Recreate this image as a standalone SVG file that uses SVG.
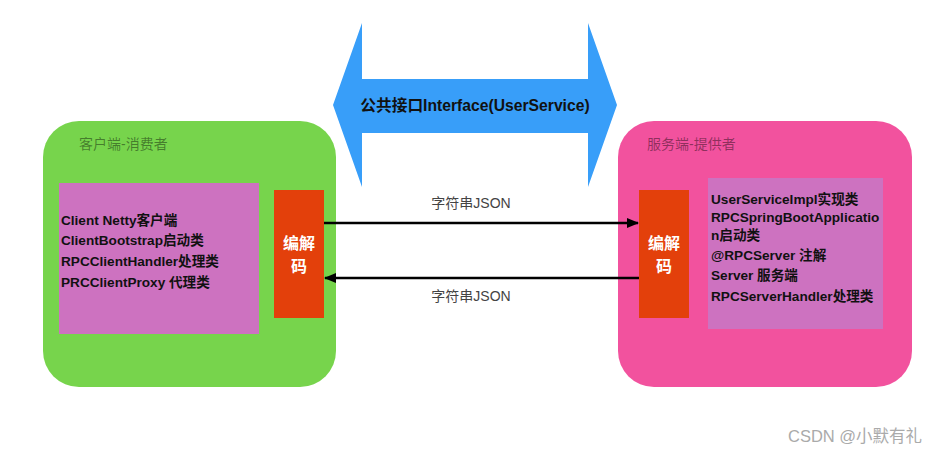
<svg xmlns="http://www.w3.org/2000/svg" width="940" height="455" viewBox="0 0 940 455">
<style>
text{font-family:"Liberation Sans","Noto Sans CJK SC",sans-serif}
.title{font-size:14px;fill:#000;fill-opacity:0.42}
.body{font-size:13.6px;font-weight:bold;fill:#111}
.codec{font-size:16px;font-weight:bold;fill:#fff;text-anchor:middle}
.lbl{font-size:14px;fill:#444;text-anchor:middle}
.conn{stroke:#000;stroke-width:2.5;fill:none}
.purple{fill:#cd72c0}
.red{fill:#e3400b}
</style>
<defs>
<marker id="ah" markerWidth="12" markerHeight="10" refX="11" refY="5" orient="auto" markerUnits="userSpaceOnUse">
<path d="M0,0 L12,5 L0,10 Z" fill="#000"/>
</marker>
</defs>
<rect width="940" height="455" fill="#fff"/>
<g id="interface">
<path d="M333,105 L362,23 L362,79 L588,79 L588,23 L617,105 L588,187 L588,133 L362,133 L362,187 Z" fill="#389ef9"/>
<text x="475" y="111" font-size="15.7" font-weight="bold" fill="#111" text-anchor="middle">公共接口Interface(UserService)</text>
</g>
<g id="client">
<rect x="43" y="121" width="293" height="266" rx="36" fill="#77d44c"/>
<text class="title" x="79" y="149">客户端-消费者</text>
<rect class="purple" x="59" y="183" width="200" height="151"/>
<text class="body" x="61" y="225">Client Netty客户端</text>
<text class="body" x="61" y="245">ClientBootstrap启动类</text>
<text class="body" x="61" y="266">RPCClientHandler处理类</text>
<text class="body" x="61" y="287">PRCClientProxy 代理类</text>
</g>
<g id="client-codec">
<rect class="red" x="274" y="190" width="50" height="128"/>
<text class="codec" x="299" y="249">编解</text>
<text class="codec" x="299" y="272">码</text>
</g>
<g id="server">
<rect x="618" y="121" width="294" height="266" rx="36" fill="#f2529e"/>
<text class="title" x="647" y="149">服务端-提供者</text>
<rect class="purple" x="708" y="178" width="175" height="151"/>
<text class="body" x="711" y="204">UserServiceImpl实现类</text>
<text class="body" x="711" y="222">RPCSpringBootApplicatio</text>
<text class="body" x="711" y="240">n启动类</text>
<text class="body" x="711" y="260">@RPCServer 注解</text>
<text class="body" x="711" y="280">Server 服务端</text>
<text class="body" x="711" y="301">RPCServerHandler处理类</text>
</g>
<g id="server-codec">
<rect class="red" x="639" y="190" width="50" height="128"/>
<text class="codec" x="664" y="249">编解</text>
<text class="codec" x="664" y="272">码</text>
</g>
<g id="connectors">
<line class="conn" x1="324" y1="223" x2="638" y2="223" marker-end="url(#ah)"/>
<line class="conn" x1="639" y1="278" x2="325" y2="278" marker-end="url(#ah)"/>
<text class="lbl" x="471" y="208">字符串JSON</text>
<text class="lbl" x="471" y="301">字符串JSON</text>
</g>
<text x="788" y="442" font-size="16.5" fill="#aaa">CSDN @小默有礼</text>
</svg>
